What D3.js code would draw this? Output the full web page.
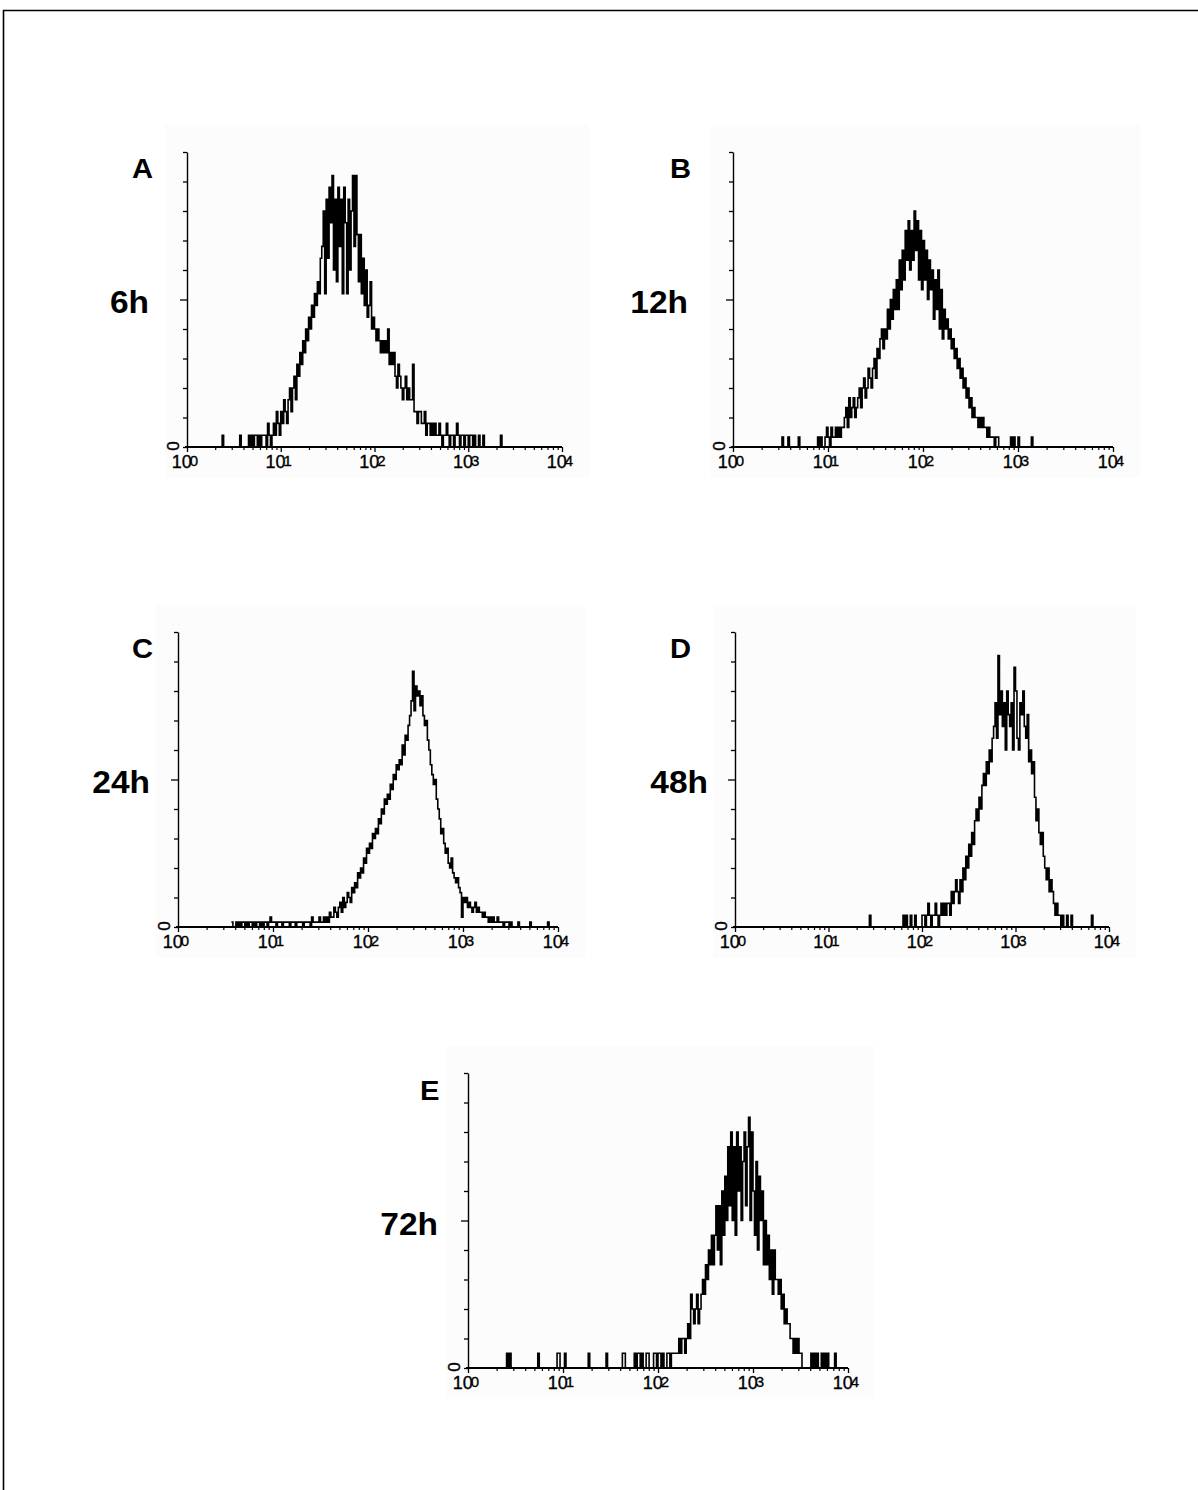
<!DOCTYPE html>
<html>
<head>
<meta charset="utf-8">
<script src="https://cdn.jsdelivr.net/npm/d3@7"></script>
<style>
  body { margin: 0; background: #ffffff; }
  svg { display: block; }
</style>
</head>
<body>
<svg id="chart" width="1198" height="1490"></svg>
<script>
// ---------------- DATA ----------------
const panelLetters = ["A", "B", "C", "D", "E"];
const timeLabels = ["6h", "12h", "24h", "48h", "72h"];
const decadeExponents = ["0", "1", "2", "3", "4"];
const channelsPerDecade = 64;        // 256 channels over 4 log decades
const yMaxCounts = [25, 30, 60, 25, 20];

// histogram counts per channel, each list starts at the given channel
const startA = 20;
const countsA = [
  0,0,0,0,1,0,0,0, 0,0,0,0,0,0,0,0, 1,0,0,0,0,0,1,0, 1,0,1,1,0,1,0,1,
  1,1,0,2,1,0,1,2, 1,3,2,1,3,2,4,3, 2,4,5,3,5,6,4,7, 6,8,7,9,8,10,9,11,
  10,12,11,13,12,14,13,16, 17,20,13,21,16,22,19,23, 15,21,14,22,17,21,13,22,
  19,13,21,15,20,23,17,23, 18,14,18,13,16,12,15,11, 12,14,10,11,10,9,10,9,
  8,9,8,9,8,10,7,8, 7,8,6,5,7,6,5,4, 5,6,4,5,4,4,7,3, 3,2,3,3,2,2,3,1,
  2,2,1,2,1,2,1,1, 2,1,0,1,1,2,1,0, 1,1,0,1,2,1,0,1, 1,0,1,1,0,1,1,0,
  1,0,0,1,0,0,1,0, 0,0,0,0,0,0,0,0, 0,0,1,0
];

const startB = 30;
const countsB = [
  0,0,0,1,0,0,0,1, 0,0,0,0,0,0,1,0, 0,0,0,0,0,0,0,0, 0,0,0,1,0,1,0,0,
  1,2,1,0,2,1,1,2, 1,2,1,2,2,3,4,2, 5,3,4,5,3,4,5,6, 4,6,7,5,6,8,7,6,
  8,9,7,10,9,11,12,10, 12,11,14,12,15,13,16,14, 17,14,19,16,20,17,22,19,
  23,18,22,19,24,20,23,17, 22,16,21,17,20,15,19,16, 18,13,17,14,18,12,16,11,
  14,12,13,11,12,10,11,9, 10,8,9,7,8,6,7,5, 6,4,5,3,4,3,3,2, 3,2,3,2,2,1,2,1,
  1,1,0,1,1,0,0,0, 0,0,0,0,0,1,0,1, 0,0,1,0,0,0,0,0, 0,0,0,1
];

const startC = 36;
const countsC = [
  1,0,0,1,0,1,0,1, 1,0,1,0,1,1,0,1, 0,1,1,0,1,0,1,1, 0,1,2,1,1,1,0,1,
  1,1,0,1,1,1,1,0, 1,1,1,0,1,1,1,1, 0,1,1,1,1,0,2,1, 1,1,1,2,1,1,2,1,
  2,1,3,2,2,4,3,2, 4,5,3,6,4,5,7,6, 5,8,7,9,8,11,10,12, 11,14,13,16,15,17,16,19,
  18,20,19,22,21,24,23,26, 25,27,26,29,28,31,30,33, 32,34,33,37,35,39,38,41,
  43,46,52,44,49,47,48,45, 47,43,41,42,38,36,33,31, 29,30,26,24,22,19,20,17,
  15,16,13,12,14,11,10,9, 10,8,7,2,6,5,6,4, 5,4,3,4,5,3,4,3, 3,2,3,2,2,1,2,1,
  2,1,1,2,1,1,1,0, 1,1,1,0,1,0,0,0, 0,1,0,0,0,0,0,0, 0,1,0,0,0,0,0,0,
  0,0,0,0,0,1,0,0
];

const startD = 90;
const countsD = [
  0,0,1,0,0,0,0,0, 0,0,0,0,0,0,0,0, 0,0,0,0,0,0,0,0, 0,1,0,1,0,0,1,0,
  0,1,0,0,0,0,1,1, 0,1,2,1,0,1,1,2, 1,0,1,2,1,2,1,2, 2,1,3,2,3,4,3,2,
  4,3,5,4,6,5,7,6, 8,7,9,10,9,11,10,12, 13,12,14,13,15,14,16,17,
  19,16,23,18,20,17,19,15, 20,18,17,19,15,22,20,16, 15,19,18,20,17,16,18,14,
  15,13,14,11,9,10,8,7, 8,6,5,4,5,3,4,3, 2,1,2,1,1,0,1,0, 0,1,0,0,1,0,0,0,
  0,0,0,0,0,0,0,0, 0,0,1,0
];

const startE = 24;
const countsE = [
  0,0,1,0,1,0,0,0, 0,0,0,0,0,0,0,0, 0,0,0,0,0,0,0,1, 0,0,0,0,0,0,0,0,
  0,0,0,0,1,1,0,0, 0,1,0,0,0,0,0,0, 0,0,0,0,0,0,0,0, 0,1,0,0,0,0,0,0,
  0,0,0,0,0,1,0,0, 0,0,0,0,0,0,0,0, 1,1,0,0,0,0,0,0, 1,0,1,1,0,1,0,0,
  1,1,0,0,0,1,1,0, 1,1,0,1,0,0,1,1, 0,1,1,1,1,1,2,1, 2,2,1,2,3,2,5,4,
  3,4,5,3,4,5,6,5, 7,6,8,7,9,7,9,11, 8,11,7,12,9,13,10,15, 11,16,10,15,9,16,12,15,
  10,14,16,11,15,17,10,16, 12,9,14,8,13,10,12,7, 10,7,9,6,8,5,8,6,
  6,5,6,4,5,3,4,3, 3,2,2,1,2,1,2,1, 1,0,0,0,0,0,0,1, 0,1,0,1,0,0,1,0,
  1,0,1,0,0,0,0,1
];

const starts = [startA, startB, startC, startD, startE];
const counts = [countsA, countsB, countsC, countsD, countsE];

// ---------------- LAYOUT ----------------
const layout = [
  { x0: 187, w: 375, top: 152, base: 447, letter: [132, 178], time: [149, 313] },
  { x0: 733, w: 380, top: 152, base: 447, letter: [670, 178], time: [688, 313] },
  { x0: 178, w: 380, top: 632, base: 927, letter: [132, 658], time: [150, 793] },
  { x0: 735, w: 374, top: 632, base: 927, letter: [670, 658], time: [708, 793] },
  { x0: 468, w: 380, top: 1073, base: 1368, letter: [420, 1100], time: [438, 1235] }
];

const svg = d3.select("#chart");
const FONT = "'Liberation Sans', Arial, Helvetica, sans-serif";

// page frame (top and left rules)
svg.append("line").attr("x1", 3).attr("x2", 1198).attr("y1", 10.5).attr("y2", 10.5)
  .attr("stroke", "#000").attr("stroke-width", 1.6);
svg.append("line").attr("x1", 3.5).attr("x2", 3.5).attr("y1", 10).attr("y2", 1490)
  .attr("stroke", "#000").attr("stroke-width", 1.6);

layout.forEach((p, i) => {
  const g = svg.append("g");
  const x = d3.scaleLog().domain([1, 1e4]).range([p.x0, p.x0 + p.w]);
  const y = d3.scaleLinear().domain([0, yMaxCounts[i]]).range([p.base, p.top]);

  // faint plot backdrop
  g.append("rect")
    .attr("x", p.x0 - 22).attr("y", p.top - 27)
    .attr("width", p.w + 49).attr("height", p.base - p.top + 58)
    .attr("fill", "#fcfcfc");

  // histogram (step line)
  const pts = counts[i].map((n, k) => [Math.pow(10, (starts[i] + k) / channelsPerDecade), n]);
  pts.push([Math.pow(10, (starts[i] + counts[i].length) / channelsPerDecade), 0]);
  const line = d3.line()
    .x(d => x(d[0]))
    .y(d => y(d[1]))
    .curve(d3.curveStepAfter);
  g.append("path")
    .datum(pts)
    .attr("d", line)
    .attr("fill", "none")
    .attr("stroke", "#000")
    .attr("stroke-width", 1.6)
    .attr("stroke-linejoin", "miter");

  // y axis
  const ymax = yMaxCounts[i];
  const yTicks = d3.range(0, 11).map(k => k * ymax / 10);
  const yAx = g.append("g")
    .attr("transform", `translate(${p.x0},0)`)
    .call(d3.axisLeft(y).tickValues(yTicks).tickSize(4).tickSizeOuter(0).tickFormat(""));
  yAx.select(".domain").attr("stroke", "#000").attr("stroke-width", 1.4);
  yAx.selectAll(".tick line").attr("stroke", "#000").attr("stroke-width", 1.3)
    .attr("x2", (d, k) => k === 5 ? -7 : -4);

  // x axis: minor ticks
  const minors = [];
  for (let dec = 0; dec < 4; dec++) for (let m = 2; m <= 9; m++) minors.push(m * Math.pow(10, dec));
  const xMinor = g.append("g")
    .attr("transform", `translate(0,${p.base})`)
    .call(d3.axisBottom(x).tickValues(minors).tickSize(3).tickSizeOuter(0).tickFormat(""));
  xMinor.select(".domain").remove();
  xMinor.selectAll(".tick line").attr("stroke", "#000").attr("stroke-width", 1.2);

  // x axis: decade ticks
  const decades = decadeExponents.map(e => Math.pow(10, +e));
  const xMajor = g.append("g")
    .attr("transform", `translate(0,${p.base})`)
    .call(d3.axisBottom(x).tickValues(decades).tickSize(5).tickSizeOuter(0).tickFormat(""));
  xMajor.select(".domain").attr("stroke", "#000").attr("stroke-width", 1.8)
    .attr("d", `M${p.x0 - 2},0H${p.x0 + p.w}`);
  xMajor.selectAll(".tick line").attr("stroke", "#000").attr("stroke-width", 1.3);

  // decade labels 10^k
  decadeExponents.forEach(e => {
    const t = g.append("text")
      .attr("x", x(Math.pow(10, +e)) - 2)
      .attr("y", p.base + 21)
      .attr("text-anchor", "middle")
      .attr("font-family", FONT)
      .attr("font-size", 18)
      .attr("fill", "#000")
      .attr("stroke", "#000").attr("stroke-width", 0.35);
    t.append("tspan").text("10");
    t.append("tspan").attr("dx", -2).attr("dy", -2).attr("font-size", 15).text(e);
  });

  // rotated zero on y axis
  g.append("text")
    .attr("transform", `translate(${p.x0 - 14},${p.base - 1}) rotate(-90)`)
    .attr("text-anchor", "middle")
    .attr("dominant-baseline", "central")
    .attr("font-family", FONT)
    .attr("font-size", 17)
    .attr("fill", "#000")
    .attr("stroke", "#000").attr("stroke-width", 0.4)
    .text("0");

  // panel letter and time label
  g.append("text")
    .attr("transform", `translate(${p.letter[0]},${p.letter[1]}) scale(1.08,1)`)
    .attr("font-family", FONT).attr("font-weight", "bold").attr("font-size", 27)
    .attr("fill", "#000").text(panelLetters[i]);
  g.append("text")
    .attr("transform", `translate(${p.time[0]},${p.time[1]}) scale(1.08,1)`)
    .attr("text-anchor", "end")
    .attr("font-family", FONT).attr("font-weight", "bold").attr("font-size", 31)
    .attr("fill", "#000").text(timeLabels[i]);
});
</script>
</body>
</html>
